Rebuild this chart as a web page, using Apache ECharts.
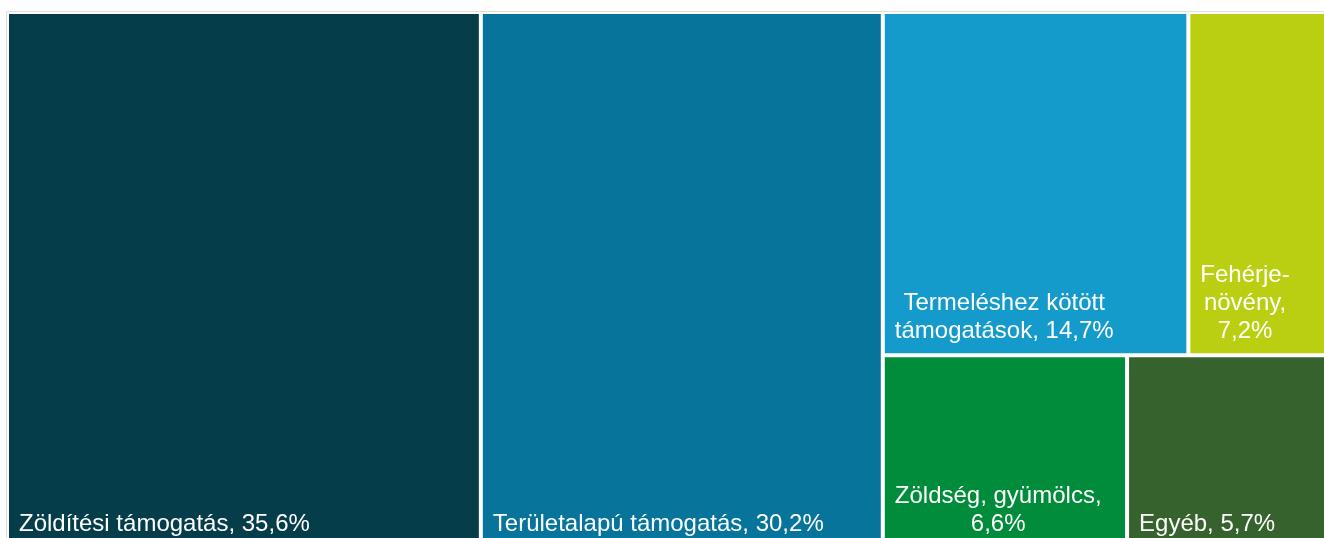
<!DOCTYPE html>
<html lang="hu">
<head>
  <meta charset="UTF-8">
  <title>Közvetlen támogatások</title>
  <script src="https://cdn.jsdelivr.net/npm/echarts@6/dist/echarts.min.js"></script>
  <style>
    html, body { margin: 0; padding: 0; background: #fff; overflow: hidden; }
  </style>
</head>
<body>
  <div id="main" style="width: 1340px; height: 550px;"></div>
  <script type="text/javascript">
    // tiles
    var names = ['Zöldítési támogatás', 'Területalapú támogatás', 'Termeléshez kötött\ntámogatások', 'Fehérje-\nnövény', 'Zöldség, gyümölcs', 'Egyéb'];
    var values = [35.6, 30.2, 14.7, 7.2, 6.6, 5.7];
    var colors = ['#063d4b', '#07759b', '#159bcb', '#bbcf12', '#008c3a', '#35622d'];
    // value goes on its own line for these
    var valueOnNewLine = [false, false, false, true, true, false];

    var FONT_SIZE = 24;
    var FONT_FAMILY = 'Liberation Sans';
    var PAD = 10;

    var ctx = document.createElement('canvas').getContext('2d');
    ctx.font = FONT_SIZE + 'px "' + FONT_FAMILY + '"';

    function labelText(i) {
      var v = values[i].toFixed(1).replace('.', ',') + '%';
      return names[i] + (valueOnNewLine[i] ? ',\n' : ', ') + v;
    }

    function leaf(i) {
      var txt = labelText(i);
      var w = Math.max.apply(null, txt.split('\n').map(function (s) { return ctx.measureText(s).width; }));
      return {
        name: names[i],
        value: values[i],
        itemStyle: { color: colors[i] },
        label: {
          formatter: txt,
          position: [PAD + w / 2, '100%'],
          offset: [0, -8],
          align: 'center',
          verticalAlign: 'bottom'
        }
      };
    }

    function group(name, children) {
      return { name: name, children: children };
    }

    var treeData = [
      leaf(0),
      leaf(1),
      group('rest', [
        group('top', [leaf(2), leaf(3)]),
        group('bottom', [leaf(4), leaf(5)])
      ])
    ];

    var myChart = echarts.init(document.getElementById('main'));

    myChart.setOption({
      backgroundColor: '#fff',
      animation: false,
      graphic: [{
        type: 'rect',
        z: -10,
        shape: { x: 6.5, y: 11.5, width: 1400, height: 600 },
        style: { fill: 'none', stroke: '#dedede', lineWidth: 1 }
      }],
      series: [{
        type: 'treemap',
        left: 9,
        top: 14,
        width: 1327,
        height: 532,
        roam: false,
        nodeClick: false,
        sort: false,
        squareRatio: 1,
        breadcrumb: { show: false },
        label: {
          show: true,
          color: '#fff',
          fontFamily: FONT_FAMILY,
          fontSize: FONT_SIZE,
          lineHeight: 28,
          padding: 0,
          overflow: 'none'
        },
        upperLabel: { show: false },
        itemStyle: { borderWidth: 0, gapWidth: 4, borderColor: '#fff' },
        levels: [
          { itemStyle: { borderWidth: 0, gapWidth: 4 } },
          { itemStyle: { borderWidth: 0, gapWidth: 4 } },
          { itemStyle: { borderWidth: 0, gapWidth: 4 } },
          { itemStyle: { borderWidth: 0, gapWidth: 4 } }
        ],
        emphasis: { disabled: true },
        data: treeData
      }]
    });
  </script>
</body>
</html>
